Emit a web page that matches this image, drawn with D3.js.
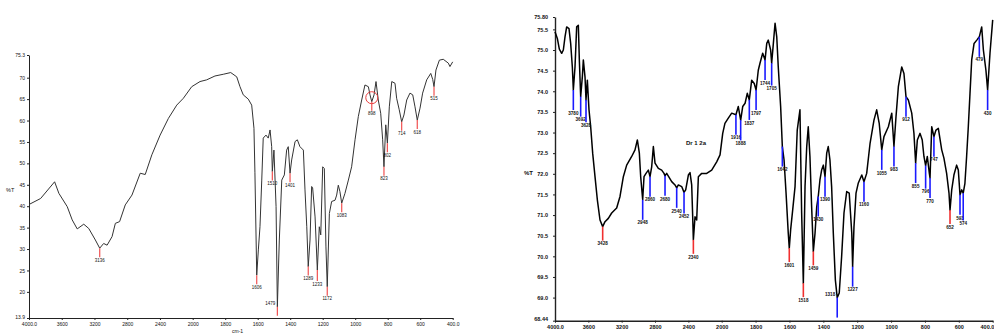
<!DOCTYPE html>
<html>
<head>
<meta charset="utf-8">
<script src="https://cdn.jsdelivr.net/npm/d3@7"></script>
<style>
  body { margin: 0; background: #fff; }
  svg { display: block; font-family: "Liberation Sans", Arial, sans-serif; }
</style>
</head>
<body>
<svg id="chart" width="994" height="336"></svg>
<script>
// ---- Spectrum 1 (left): wavenumber (cm-1) and %T ----
const leftWavenumbers = [
  4000,3858,3687,3635,3533,3472,3411,3331,3270,3189,
  3136,3088,3046,2985,2945,2893,2824,2742,2641,2580,
  2499,2398,2297,2195,2114,2012,1955,1914,1863,1812,
  1766,1729,1709,1689,1658,1637,1623,1617,1606,1596,
  1586,1575,1566,1549,1535,1524,1514,1510,1500,1487,
  1479,1467,1452,1436,1422,1412,1401,1391,1370,1356,
  1340,1319,1309,1298,1289,1278,1268,1262,1247,1233,
  1221,1212,1200,1190,1180,1172,1159,1145,1124,1114,
  1104,1094,1083,1063,1042,1022,1001,981,960,940,
  919,909,898,884,872,858,843,831,823,812,
  802,790,775,755,745,729,714,700,683,663,
  646,632,618,601,585,560,535,523,515,503,
  482,458,427,417,400
];
const leftTransmittance = [
  40.4,41.8,45.7,43.0,39.9,36.8,34.7,35.8,34.8,32.1,
  30.2,31.3,30.9,32.9,36.0,36.4,40.3,42.6,47.7,47.4,
  52.0,56.6,60.5,63.6,65.2,67.9,69.1,69.5,70.4,70.8,
  71.2,70.2,67.9,66.0,65.0,63.6,58.2,47.8,23.9,29.8,
  35.2,46.1,55.9,56.6,55.9,57.8,53.9,48.1,53.1,39.9,
  16.5,32.1,46.1,47.3,53.1,53.9,47.7,50.8,55.1,55.5,
  53.9,53.1,43.8,35.2,25.9,32.1,44.6,44.3,37.5,25.1,
  35.2,33.3,49.2,48.8,30.5,21.2,38.3,41.1,41.4,42.6,
  44.9,43.4,40.7,43.0,46.1,49.2,55.5,60.9,64.8,68.3,
  67.9,66.0,64.4,66.0,69.1,64.8,61.7,55.5,49.2,59.0,
  54.7,63.2,69.1,68.7,65.2,62.5,59.7,61.3,64.8,66.4,
  66.0,63.2,60.1,62.9,66.4,69.5,71.0,69.6,67.9,71.8,
  74.1,74.3,73.4,72.6,73.7
];
const leftPeaks = [3136,1606,1510,1479,1401,1289,1233,1172,1083,898,823,802,714,618,515];
const leftCircledPeak = 898;
const leftYDomain = [13.9, 75.3];
const leftYTicks = [13.9,20,25,30,35,40,45,50,55,60,65,70,75.3];
const leftYTickLabels = ["13.9","20","25","30","35","40","45","50","55","60","65","70","75.3"];

// ---- Spectrum 2 (right): wavenumber (cm-1) and %T ----
const rightWavenumbers = [
  4000,3972,3948,3920,3900,3880,3860,3832,3812,3792,
  3780,3760,3740,3720,3708,3692,3672,3660,3640,3628,
  3612,3592,3572,3548,3520,3492,3460,3428,3400,3360,
  3320,3260,3220,3180,3140,3080,3040,3012,2988,2972,
  2948,2932,2908,2880,2860,2840,2820,2800,2760,2720,
  2692,2680,2660,2600,2560,2540,2520,2480,2452,2432,
  2400,2380,2360,2348,2340,2320,2300,2280,2240,2180,
  2120,2060,2020,1994,1981,1961,1941,1916,1902,1888,
  1876,1862,1849,1837,1823,1808,1797,1784,1774,1758,
  1744,1734,1725,1711,1705,1695,1685,1675,1666,1652,
  1642,1632,1620,1607,1601,1593,1581,1567,1554,1538,
  1528,1518,1508,1498,1489,1479,1469,1459,1449,1439,
  1430,1420,1410,1400,1390,1380,1371,1361,1351,1341,
  1329,1318,1306,1292,1278,1262,1247,1232,1227,1219,
  1207,1194,1173,1160,1144,1124,1101,1085,1070,1055,
  1042,1016,996,983,971,957,937,924,912,898,
  878,865,855,845,829,816,806,796,786,774,
  770,760,747,735,721,701,688,672,658,652,
  642,629,613,603,593,583,574,564,554,544,
  534,524,510,494,479,465,455,440,430,416,
  400
];
const rightTransmittance = [
  75.44,75.28,75.02,74.92,75.00,75.32,75.56,75.52,75.16,74.59,
  74.03,74.59,75.56,75.60,74.76,73.87,74.35,74.76,74.35,73.79,
  74.27,73.55,73.14,72.50,71.93,71.37,70.88,70.72,70.84,70.92,
  71.05,71.17,71.45,71.93,72.21,72.42,72.58,72.82,72.50,71.93,
  71.37,71.93,72.01,72.09,71.93,72.17,72.66,72.26,72.13,72.09,
  72.01,71.95,72.01,71.81,71.73,71.66,71.73,71.69,71.55,71.61,
  71.97,72.03,71.73,70.96,70.40,70.96,70.88,71.93,72.01,72.01,
  72.09,72.29,72.46,72.98,73.22,73.35,73.47,73.43,73.63,73.30,
  73.63,73.71,73.95,73.79,74.27,74.19,74.03,74.51,74.68,74.92,
  74.76,75.16,75.24,75.00,74.68,75.16,75.65,75.32,74.59,73.63,
  72.66,72.34,71.53,70.56,70.20,70.64,71.12,71.69,73.06,73.55,
  71.05,69.35,71.69,72.66,73.14,72.42,71.20,70.12,70.56,71.20,
  71.45,71.85,72.09,72.21,71.93,72.50,72.66,72.34,71.69,70.56,
  69.43,69.00,69.11,69.99,71.05,71.57,71.53,70.56,69.75,70.72,
  71.53,71.77,71.97,71.81,72.01,72.74,73.30,73.55,73.22,72.58,
  72.90,73.14,73.47,72.66,73.38,74.11,74.59,74.43,73.87,73.79,
  73.47,72.98,72.26,72.82,72.98,72.82,72.42,72.20,72.42,72.01,
  71.90,73.14,72.90,73.06,73.10,72.58,72.38,72.01,71.53,71.12,
  71.61,71.97,72.21,72.09,71.49,71.61,71.53,71.77,72.42,73.14,
  73.95,74.76,75.16,75.24,75.32,75.56,75.00,74.51,74.03,74.92,
  75.73
];
const rightPeaksBlue = [3780,3692,3628,2948,2860,2680,2540,2452,1916,1888,1837,1797,1744,1705,1642,
  1430,1390,1318,1227,1160,1055,983,912,855,796,770,747,593,574,479,430];
const rightPeaksRed = [3428,2340,1601,1518,1459,652];
const rightYDomain = [68.44, 75.80];
const rightYTicks = [68.44,69.0,69.5,70.0,70.5,71.0,71.5,72.0,72.5,73.0,73.5,74.0,74.5,75.0,75.5,75.80];
const rightYTickLabels = ["68.44","69.0","69.5","70.0","70.5","71.0","71.5","72.0","72.5","73.0","73.5","74.0","74.5","75.0","75.5","75.80"];
const sampleName = "Dr 1 2a";

// ---- Shared wavenumber axis (scale doubles below 2000 cm-1) ----
const xBreaks = [4000, 2000, 400];
const xTickValues = [4000,3600,3200,2800,2400,2000,1800,1600,1400,1200,1000,800,600,400];
const xTickLabels = ["4000.0","3600","3200","2800","2400","2000","1800","1600","1400","1200","1000","800","600","400.0"];

const svg = d3.select("#chart");

function drawPanel(o) {
  const g = svg.append("g");
  const x = d3.scaleLinear().domain(xBreaks).range(o.xRange);
  const y = d3.scaleLinear().domain(o.yDomain).range(o.yRange);
  const axisY = o.yRange[0];
  const x0 = o.xRange[0];

  // x axis
  const gx = g.append("g")
    .attr("transform", `translate(0,${axisY})`)
    .call(d3.axisBottom(x).tickValues(xTickValues)
      .tickFormat((d, i) => xTickLabels[i])
      .tickSize(2).tickSizeOuter(0).tickPadding(2));
  // keep the last wavenumber label inside the frame
  gx.selectAll(".tick text")
    .filter(d => x(d) > 985)
    .attr("text-anchor", "end").attr("dx", "0.2em");
  // y axis
  const gy = g.append("g")
    .attr("transform", `translate(${x0},0)`)
    .call(d3.axisLeft(y).tickValues(o.yTicks)
      .tickFormat((d, i) => o.yTickLabels[i])
      .tickSize(2).tickSizeOuter(0).tickPadding(o.yPad));
  [gx, gy].forEach(a => {
    a.selectAll("text").attr("font-size", o.tickFont).attr("font-weight", o.tickWeight).attr("fill", "#111");
    a.selectAll("line").attr("stroke", "#222");
    a.select(".domain").attr("stroke", "#222").attr("stroke-width", o.axisWidth);
  });
  // bottom y label sits just above the corner
  gy.selectAll(".tick text").filter((d, i) => i === 0).attr("dy", "0.05em");

  // spectrum trace
  const pts = o.wn.map((w, i) => [w, o.t[i]]);
  g.append("path")
    .datum(pts)
    .attr("fill", "none")
    .attr("stroke", o.lineColor)
    .attr("stroke-width", o.lineWidth)
    .attr("stroke-linejoin", "round")
    .attr("d", d3.line().x(d => x(d[0])).y(d => y(d[1])));

  // peak markers with wavenumber labels
  const all = [];
  o.markers.forEach(m => m.peaks.forEach(w => all.push({ w, m })));
  all.sort((a, b) => b.w - a.w);
  const placed = [];
  all.forEach(({ w, m }) => {
    const idx = o.wn.indexOf(w);
    const v = o.t[idx];
    const px = x(w), y0 = y(v);
    let y1 = Math.min(y0 + m.drop, axisY);
    const below = y1 + o.labelFont + 2 < axisY;
    let ly = below ? y1 + 1 : y0 - 2;
    // nudge crowded labels downward so neighbours stay readable
    if (below) {
      const halfW = o.labelFont * 1.1;
      placed.forEach(p => {
        if (Math.abs(p.x - px) < halfW * 2 && Math.abs(p.y - ly) < o.labelFont + 1) {
          ly = p.y + o.labelFont + 1;
        }
      });
      y1 = ly - 1;
    }
    g.append("line")
      .attr("x1", px).attr("x2", px).attr("y1", y0).attr("y2", y1)
      .attr("stroke", m.color).attr("stroke-width", m.width);
    g.append("text")
      .attr("x", below ? px : px - 2)
      .attr("y", ly)
      .attr("dy", below ? "0.8em" : "0")
      .attr("text-anchor", below ? "middle" : "end")
      .attr("font-size", o.labelFont)
      .attr("font-weight", o.tickWeight)
      .attr("fill", "#111")
      .text(Math.round(w));
    if (below) placed.push({ x: px, y: ly });
  });

  // %T axis title
  g.append("text")
    .attr("x", o.titlePos[0]).attr("y", o.titlePos[1])
    .attr("font-size", o.tickFont + 0.5).attr("font-weight", o.tickWeight)
    .attr("fill", "#111").text("%T");

  return { g, x, y };
}

// left spectrum
const left = drawPanel({
  wn: leftWavenumbers, t: leftTransmittance,
  xRange: [29, 192.7, 452.7], yRange: [318, 55], yDomain: leftYDomain,
  yTicks: leftYTicks, yTickLabels: leftYTickLabels, yPad: 2,
  tickFont: 5, tickWeight: "normal", labelFont: 4.5, axisWidth: 1,
  lineColor: "#333", lineWidth: 1,
  markers: [{ peaks: leftPeaks, color: "#f05050", drop: 9, width: 1.2 }],
  titlePos: [6, 192]
});
left.g.append("text")
  .attr("x", 232).attr("y", 333)
  .attr("font-size", 5).attr("fill", "#111").text("cm-1");
{
  const idx = leftWavenumbers.indexOf(leftCircledPeak);
  left.g.append("circle")
    .attr("cx", left.x(leftCircledPeak))
    .attr("cy", left.y(leftTransmittance[idx]) - 4)
    .attr("r", 6)
    .attr("fill", "none").attr("stroke", "#e84040").attr("stroke-width", 1);
}

// right spectrum
const right = drawPanel({
  wn: rightWavenumbers, t: rightTransmittance,
  xRange: [555, 721.7, 992.7], yRange: [320.7, 17], yDomain: rightYDomain,
  yTicks: rightYTicks, yTickLabels: rightYTickLabels, yPad: 5,
  tickFont: 5.5, tickWeight: "bold", labelFont: 4.6, axisWidth: 1.4,
  lineColor: "#000", lineWidth: 1.5,
  markers: [
    { peaks: rightPeaksBlue, color: "#1a1aff", drop: 20, width: 1.6 },
    { peaks: rightPeaksRed, color: "#f03030", drop: 14, width: 1.6 }
  ],
  titlePos: [524, 175]
});
right.g.append("text")
  .attr("x", 686).attr("y", 145)
  .attr("font-size", 6).attr("font-weight", "bold").attr("fill", "#111")
  .text(sampleName);
</script>
</body>
</html>
